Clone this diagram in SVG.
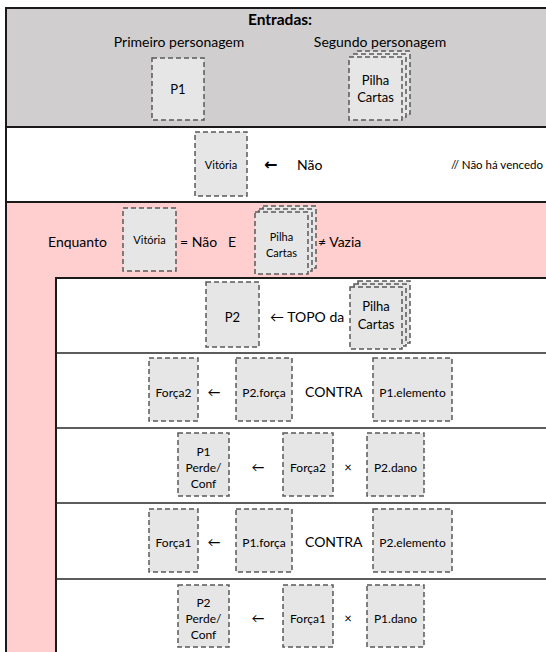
<svg xmlns="http://www.w3.org/2000/svg" width="546" height="652" viewBox="0 0 546 652">
<defs>
<style>
.band{stroke:#1a1a1a;stroke-width:2}
.sep{stroke:#262626;stroke-width:1.5;fill:none}
.box{fill:#e6e6e6;stroke:#595959;stroke-width:1.5;stroke-dasharray:5 3}
.t{font-family:Lato,"DejaVu Sans",sans-serif;fill:#000}
.c{text-anchor:middle}
.s14{font-size:14px}
.s13{font-size:13px}
.s12{font-size:12px}
.s11{font-size:11px}
.arrow{font-family:"DejaVu Sans",sans-serif;fill:#000}
</style>
</defs>

<!-- bands -->
<rect class="band" x="6" y="8" width="560" height="119" fill="#d0cece"/>
<rect class="band" x="6" y="127" width="560" height="75" fill="#ffffff"/>
<rect class="band" x="6" y="202" width="560" height="470" fill="#ffcfcf"/>
<rect class="band" x="56" y="278" width="510" height="400" fill="#ffffff"/>
<line class="sep" x1="56" y1="353" x2="546" y2="353"/>
<line class="sep" x1="56" y1="428" x2="546" y2="428"/>
<line class="sep" x1="56" y1="503" x2="546" y2="503"/>
<line class="sep" x1="56" y1="579" x2="546" y2="579"/>

<!-- header -->
<g id="header">
<text class="t c" x="280" y="25" font-size="15.5" font-weight="bold">Entradas:</text>
<text class="t c s14" x="179" y="47">Primeiro personagem</text>
<text class="t c s14" x="380" y="47">Segundo personagem</text>
</g>
<g id="in-p1">
<rect class="box" x="152" y="58" width="52" height="62" fill="#e7e6e6"/>
<text class="t c s13" x="178" y="94">P1</text>
</g>
<g id="in-pilha">
<rect class="box" x="357" y="51" width="53" height="63"/>
<rect class="box" x="353" y="54" width="53" height="63"/>
<rect class="box" x="349" y="57" width="53" height="63"/>
<text class="t c s13" x="375.5" y="85">Pilha</text>
<text class="t c s13" x="375.5" y="102">Cartas</text>
</g>

<!-- row 2 -->
<g id="init-vitoria">
<rect class="box" x="195" y="132" width="52" height="64"/>
<text class="t c s11" x="221" y="169">Vitória</text>
<text class="arrow" x="264" y="170" font-size="16" font-weight="bold">←</text>
<text class="t s14" x="297" y="170">Não</text>
<text class="t" x="451" y="169" font-size="11.5">// Não há vencedo</text>
</g>

<!-- row 3 -->
<g id="while-cond">
<text class="t s14" x="48" y="247">Enquanto</text>
<rect class="box" x="123" y="208" width="53" height="63"/>
<text class="t c s11" x="149.5" y="244">Vitória</text>
<text class="t s14" x="180" y="247">= Não</text>
<text class="t s14" x="228" y="247">E</text>
<rect class="box" x="263" y="206" width="53" height="62"/>
<rect class="box" x="259" y="209" width="53" height="62"/>
<rect class="box" x="255" y="212" width="53" height="62"/>
<text class="t c s11" x="281.5" y="241">Pilha</text>
<text class="t c s11" x="281.5" y="257">Cartas</text>
<text class="t s14" x="318" y="247">≠ Vazia</text>
</g>

<!-- inner row 1 -->
<g id="draw-p2">
<rect class="box" x="206" y="282" width="53" height="65"/>
<text class="t c s13" x="232.5" y="322">P2</text>
<text class="t s14" x="270" y="322">← TOPO da</text>
<rect class="box" x="358" y="281" width="52" height="62"/>
<rect class="box" x="354" y="284" width="52" height="62"/>
<rect class="box" x="350" y="287" width="52" height="62"/>
<text class="t c s13" x="376" y="311">Pilha</text>
<text class="t c s13" x="376" y="329">Cartas</text>
</g>

<!-- inner row 2 -->
<g id="forca2">
<rect class="box" x="149" y="358" width="49" height="63"/>
<text class="t c s12" x="173.5" y="397">Força2</text>
<text class="t c s13" x="214" y="397">←</text>
<rect class="box" x="236" y="358" width="56" height="63"/>
<text class="t c s12" x="264" y="397">P2.força</text>
<text class="t s14" x="305" y="397">CONTRA</text>
<rect class="box" x="373" y="358" width="79" height="63"/>
<text class="t c s12" x="412.5" y="397">P1.elemento</text>
</g>

<!-- inner row 3 -->
<g id="p1-perde">
<rect class="box" x="178" y="433" width="51" height="63"/>
<text class="t c s12" x="203.5" y="456">P1</text>
<text class="t c s12" x="203.5" y="472">Perde/</text>
<text class="t c s12" x="203.5" y="488">Conf</text>
<text class="t c s13" x="258" y="472">←</text>
<rect class="box" x="283" y="433" width="50" height="63"/>
<text class="t c s12" x="308" y="472">Força2</text>
<text class="t c s13" x="348" y="472">×</text>
<rect class="box" x="367" y="433" width="57" height="63"/>
<text class="t c s12" x="395.5" y="472">P2.dano</text>
</g>

<!-- inner row 4 -->
<g id="forca1">
<rect class="box" x="149" y="509" width="49" height="63"/>
<text class="t c s12" x="173.5" y="547">Força1</text>
<text class="t c s13" x="214" y="547">←</text>
<rect class="box" x="236" y="509" width="56" height="63"/>
<text class="t c s12" x="264" y="547">P1.força</text>
<text class="t s14" x="305" y="547">CONTRA</text>
<rect class="box" x="373" y="509" width="79" height="63"/>
<text class="t c s12" x="412.5" y="547">P2.elemento</text>
</g>

<!-- inner row 5 -->
<g id="p2-perde">
<rect class="box" x="178" y="585" width="51" height="62"/>
<text class="t c s12" x="203.5" y="607">P2</text>
<text class="t c s12" x="203.5" y="623">Perde/</text>
<text class="t c s12" x="203.5" y="639">Conf</text>
<text class="t c s13" x="258" y="623">←</text>
<rect class="box" x="283" y="585" width="50" height="62"/>
<text class="t c s12" x="308" y="623">Força1</text>
<text class="t c s13" x="348" y="623">×</text>
<rect class="box" x="367" y="585" width="57" height="62"/>
<text class="t c s12" x="395.5" y="623">P1.dano</text>
</g>
</svg>
